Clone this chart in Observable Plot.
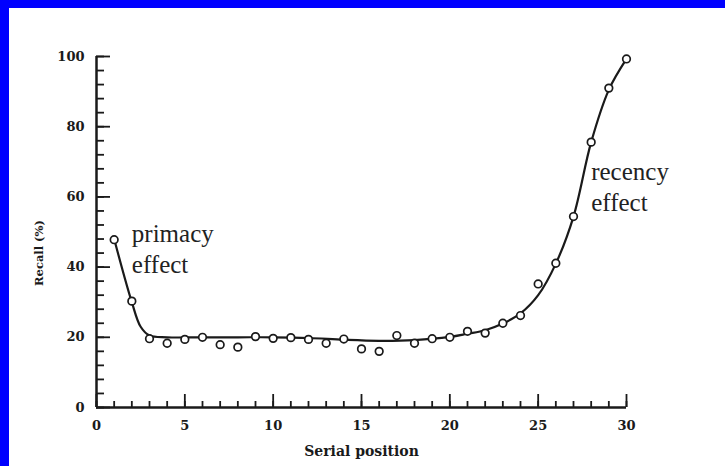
<!DOCTYPE html>
<html>
<head>
<meta charset="utf-8">
<script src="https://cdn.jsdelivr.net/npm/d3@7"></script>
<script src="https://cdn.jsdelivr.net/npm/@observablehq/plot@0.6"></script>
<style>
  html, body { margin: 0; padding: 0; background: #fff; }
  #frame { width: 716px; height: 458px; border-top: 8px solid #0000ff; border-left: 9px solid #0000ff; background: #fff; }
  svg { display: block; }
</style>
</head>
<body>
<div id="frame"></div>
<script>
// Observed data: serial position vs recall (%)
const positions = d3.range(1, 31);
const recall = [47.8, 30.3, 19.6, 18.3, 19.4, 20.0, 17.9, 17.2, 20.2, 19.7,
                19.9, 19.4, 18.3, 19.5, 16.7, 16.0, 20.5, 18.3, 19.6, 20.0,
                21.7, 21.2, 24.0, 26.2, 35.2, 41.1, 54.4, 75.6, 91.0, 99.3];

// Fitted curve
const fitX = [1, 2, 2.5, 3, 4, 6, 8, 10, 12, 14, 16, 18, 20, 21, 22, 23, 24, 25, 26, 27, 28, 29, 30];
const fitY = [48, 30, 23, 20.5, 20, 20, 20, 20, 19.8, 19.3, 19, 19.2, 20.1, 21, 22, 23.9, 26.8, 32, 41, 54.4, 75.6, 90.5, 99.3];

// Tick values
const xMajor = [0, 5, 10, 15, 20, 25, 30];
const xMinor = d3.range(0, 31);
const yMajor = [0, 20, 40, 60, 80, 100];
const yMinor = d3.range(0, 101, 4);

const xLabel = "Serial position";
const yLabel = "Recall (%)";
const notes = [
  {text: "primacy", x: 2.0, y: 49.3},
  {text: "effect", x: 2.0, y: 40.5},
  {text: "recency", x: 28.0, y: 67.0},
  {text: "effect", x: 28.0, y: 58.4}
];

const points = positions.map((p, i) => ({x: p, y: recall[i]}));
const fit = fitX.map((x, i) => ({x, y: fitY[i]}));

const ink = "#1a1a1a";
const tickFont = "DejaVu Serif";

const chart = Plot.plot({
  width: 716,
  height: 458,
  marginLeft: 87,
  marginRight: 99,
  marginTop: 48,
  marginBottom: 59,
  style: {background: "#fff", color: ink, fontFamily: tickFont},
  x: {domain: [0, 30]},
  y: {domain: [0, 100]},
  marks: [
    // inward minor and major ticks
    Plot.axisX({ticks: xMinor, tickSize: -6, text: null, strokeWidth: 1.8, label: null}),
    Plot.axisX({ticks: xMajor, tickSize: -13, text: null, strokeWidth: 1.8, label: null}),
    Plot.axisY({ticks: yMinor, tickSize: -8, text: null, strokeWidth: 1.8, label: null}),
    Plot.axisY({ticks: yMajor, tickSize: -14, text: null, strokeWidth: 1.8, label: null}),
    // tick labels
    Plot.axisX({ticks: xMajor, tickSize: 0, tickPadding: 13, fontSize: 13, fontWeight: "bold", label: null}),
    Plot.axisY({ticks: yMajor, tickSize: 0, tickPadding: 12, fontSize: 13, fontWeight: "bold", label: null}),
    Plot.ruleX([0], {stroke: ink, strokeWidth: 2.5}),
    Plot.ruleY([0], {stroke: ink, strokeWidth: 2.5}),
    // fitted curve
    Plot.line(fit, {x: "x", y: "y", curve: "catmull-rom", stroke: ink, strokeWidth: 2.2}),
    // observations
    Plot.dot(points, {x: "x", y: "y", r: 3.8, stroke: ink, strokeWidth: 1.7, fill: "#fff"}),
    // annotations
    Plot.text(notes, {x: "x", y: "y", text: "text", textAnchor: "start", fontSize: 25,
      fontFamily: "Liberation Serif", fill: "#222"}),
    Plot.text([xLabel], {frameAnchor: "bottom", dy: 48, fontSize: 14, fontWeight: "bold", fill: ink}),
    Plot.text([yLabel], {x: 0, y: 44, dx: -57, rotate: -90, fontSize: 11.5, fontWeight: "bold", fill: ink})
  ]
});
document.getElementById("frame").appendChild(chart);
</script>
</body>
</html>
